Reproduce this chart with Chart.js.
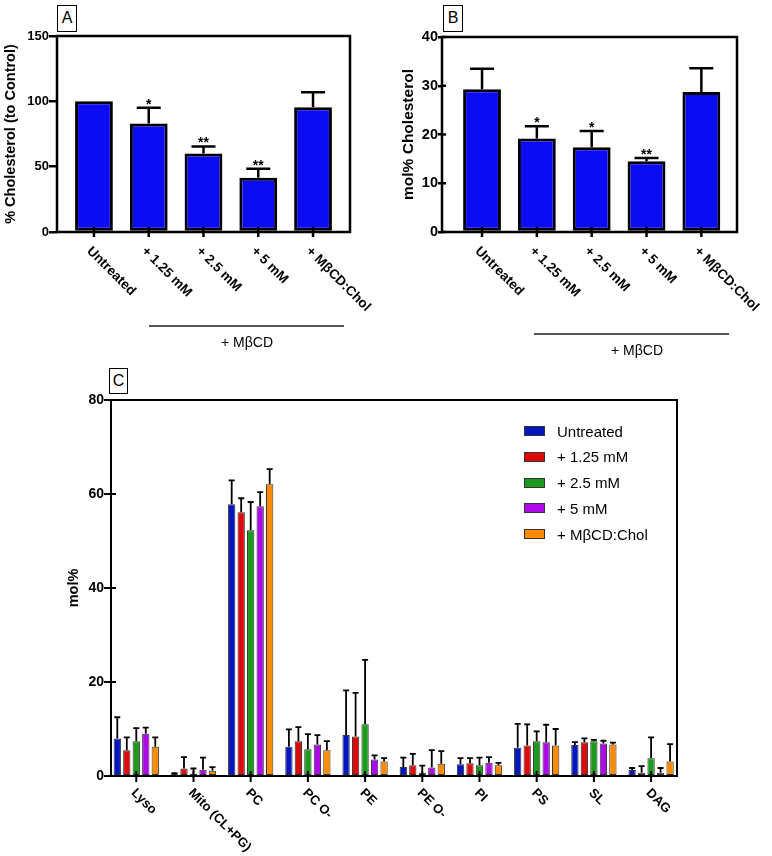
<!DOCTYPE html>
<html>
<head>
<meta charset="utf-8">
<script src="https://cdn.jsdelivr.net/npm/chart.js@4.4.1/dist/chart.umd.min.js"></script>
<style>
  body { margin: 0; background: #fff; font-family: 'Liberation Sans', Arial, sans-serif; color: #000; }
  #fig { position: relative; width: 772px; height: 856px; overflow: hidden; }
  canvas, .abs { position: absolute; }
  .tag { border: 1.5px solid #000; font-size: 16px; line-height: 24px; text-align: center; box-sizing: border-box; background: #fff; }
  .rule { background: #555; height: 2px; }
  .sub { font-size: 14px; width: 120px; text-align: center; }
  .key { display: flex; align-items: center; font-size: 15px; height: 20px; }
  .sw { width: 21px; height: 10px; border: 1px solid #333; box-sizing: border-box; margin-right: 12px; }
</style>
</head>
<body>
<div id="fig">
  <canvas id="chartA" width="386" height="330" style="left:0;top:0"></canvas>
  <canvas id="chartB" width="386" height="340" style="left:386px;top:0"></canvas>
  <canvas id="chartC" width="772" height="476" style="left:0;top:380px"></canvas>

  <div class="abs tag" style="left:57px;top:5px;width:20px;height:27px">A</div>
  <div class="abs tag" style="left:443px;top:5px;width:20px;height:27px">B</div>
  <div class="abs tag" style="left:109px;top:368px;width:19px;height:26px">C</div>

  <div class="abs rule" style="left:149px;top:325px;width:195px"></div>
  <div class="abs sub" style="left:187px;top:334px">+ MβCD</div>
  <div class="abs rule" style="left:534px;top:333px;width:195px"></div>
  <div class="abs sub" style="left:577px;top:342px">+ MβCD</div>

  <div class="abs" id="legendC" style="left:524px;top:421px"></div>
</div>

<script>
// panels A and B
const treatments = ['Untreated', '+ 1.25 mM', '+ 2.5 mM', '+ 5 mM', '+ MβCD:Chol'];
const cholPercent = [100, 83, 60, 41.5, 95.5];
const cholPercentErr = [100, 95, 65.5, 48.5, 107];
const cholPercentStars = ['', '*', '**', '**', ''];
const cholMol = [29.3, 19.2, 17.4, 14.5, 28.7];
const cholMolErr = [33.5, 21.7, 20.7, 15.2, 33.6];
const cholMolStars = ['', '*', '*', '**', ''];

// panel C
const lipidClasses = ['Lyso', 'Mito (CL+PG)', 'PC', 'PC O-', 'PE', 'PE O-', 'PI', 'PS', 'SL', 'DAG'];
const untreated    = [8.0, 0.5, 57.8, 6.2, 8.7, 1.9, 2.5, 6.0, 6.6, 1.3];
const untreatedErr = [12.5, 0.6, 62.9, 9.9, 18.2, 3.9, 3.8, 11.1, 7.2, 1.7];
const mm125        = [5.5, 1.6, 56.1, 7.4, 8.4, 2.3, 2.7, 6.5, 7.2, 0.7];
const mm125Err     = [8.2, 4.0, 59.1, 10.4, 17.7, 4.7, 3.8, 11.0, 8.0, 2.1];
const mm25         = [7.4, 0.5, 52.3, 5.7, 11.0, 0.7, 2.3, 7.4, 7.4, 3.8];
const mm25Err      = [10.2, 1.6, 58.3, 8.9, 24.7, 2.2, 3.9, 9.5, 7.7, 8.2];
const mm5          = [9.0, 1.35, 57.4, 6.7, 3.5, 1.8, 2.8, 7.2, 6.9, 0.7];
const mm5Err       = [10.3, 3.9, 60.4, 8.7, 4.4, 5.5, 4.0, 10.9, 7.5, 1.7];
const cholAdd      = [6.2, 1.1, 62.1, 5.5, 3.1, 2.6, 2.3, 6.5, 6.7, 3.1];
const cholAddErr   = [8.2, 1.9, 65.3, 7.4, 3.8, 5.3, 2.8, 10.0, 7.1, 6.8];
const seriesNames  = ['Untreated', '+ 1.25 mM', '+ 2.5 mM', '+ 5 mM', '+ MβCD:Chol'];
const seriesColors = ['#0516c0', '#dc0a0a', '#1b9a1b', '#ad0ae8', '#ff8c00'];

Chart.defaults.font.family = "'Liberation Sans', Arial, sans-serif";
Chart.defaults.color = '#000';
Chart.defaults.animation = false;

const toPoints = arr => arr.map((v, i) => ({ x: i + 1, y: v }));

// error bars, stars, frame, crossing ticks and slanted labels
const panelDeco = {
  id: 'panelDeco',
  afterDatasetsDraw(chart, args, o) {
    const ctx = chart.ctx, ys = chart.scales.y;
    ctx.save();
    ctx.strokeStyle = '#000';
    ctx.fillStyle = '#000';
    ctx.lineWidth = o.errWidth;
    chart.data.datasets.forEach((ds, i) => {
      chart.getDatasetMeta(i).data.forEach((bar, j) => {
        const top = ds.errorTop[j];
        let py = bar.y;
        if (top > ds.data[j].y) {
          py = ys.getPixelForValue(top);
          ctx.beginPath();
          ctx.moveTo(bar.x, bar.y);
          ctx.lineTo(bar.x, py);
          ctx.moveTo(bar.x - o.cap, py);
          ctx.lineTo(bar.x + o.cap, py);
          ctx.stroke();
        }
        if (ds.stars && ds.stars[j]) {
          ctx.font = 'bold 14px ' + Chart.defaults.font.family;
          ctx.textAlign = 'center';
          ctx.textBaseline = 'alphabetic';
          ctx.fillText(ds.stars[j], bar.x, py + 1);
        }
      });
    });
    ctx.restore();
  },
  afterDraw(chart, args, o) {
    const ctx = chart.ctx, ca = chart.chartArea, xs = chart.scales.x, ys = chart.scales.y;
    ctx.save();
    ctx.strokeStyle = '#000';
    ctx.lineWidth = o.frame;
    ctx.strokeRect(ca.left, ca.top, ca.right - ca.left, ca.bottom - ca.top);
    ctx.beginPath();
    xs.ticks.forEach(t => {
      const px = xs.getPixelForValue(t.value);
      ctx.moveTo(px, ca.bottom - o.xIn);
      ctx.lineTo(px, ca.bottom + o.xOut);
    });
    if (o.yIn) {
      ys.ticks.forEach(t => {
        const py = ys.getPixelForValue(t.value);
        ctx.moveTo(ca.left, py);
        ctx.lineTo(ca.left + o.yIn, py);
      });
    }
    ctx.stroke();
    ctx.fillStyle = '#000';
    ctx.font = 'bold ' + o.labelSize + 'px ' + Chart.defaults.font.family;
    ctx.textAlign = 'left';
    ctx.textBaseline = 'middle';
    o.labels.forEach((lab, i) => {
      const px = xs.getPixelForValue(i + 1);
      ctx.save();
      ctx.translate(px - o.labelDx, ca.bottom + o.labelDy);
      ctx.rotate(Math.PI / 4);
      ctx.fillText(lab, 0, 0);
      ctx.restore();
    });
    ctx.restore();
  }
};

function xAxis(labels, min, max, h) {
  return {
    type: 'linear', min: min, max: max, offset: false,
    afterBuildTicks: s => { s.ticks = labels.map((_, i) => ({ value: i + 1 })); },
    afterFit: s => { s.height = h; },
    ticks: { display: false },
    grid: { display: false, offset: false },
    border: { display: false }
  };
}

function yAxis(max, step, w, tickLen, lineW, size, title, titleSize, titlePad) {
  return {
    min: 0, max: max,
    afterFit: s => { s.width = w; },
    ticks: { stepSize: step, padding: 0, font: { size: size, weight: 'bold' } },
    grid: { drawOnChartArea: false, drawTicks: true, tickLength: tickLen, color: '#000', lineWidth: lineW },
    border: { display: false },
    title: { display: true, text: title, padding: { top: titlePad, bottom: 0 }, font: { size: titleSize, weight: 'bold' } }
  };
}

function singlePanel(id, values, errs, stars, yMax, yStep, yTitle, opts) {
  new Chart(document.getElementById(id), {
    type: 'bar',
    data: {
      datasets: [{
        data: toPoints(values),
        errorTop: errs,
        stars: stars,
        backgroundColor: '#0c0cf2',
        borderColor: '#000',
        borderWidth: 3,
        borderSkipped: false,
        categoryPercentage: 1,
        barPercentage: 0.69
      }]
    },
    options: {
      responsive: false,
      layout: { padding: opts.pad },
      scales: {
        x: xAxis(treatments, opts.xMin, opts.xMax, opts.xH),
        y: yAxis(yMax, yStep, opts.yW, opts.tick, 2.5, opts.tickSize, yTitle, opts.titleSize, opts.titlePad)
      },
      plugins: {
        legend: { display: false },
        tooltip: { enabled: false },
        panelDeco: { errWidth: 2.5, cap: 12, frame: 2.5, xIn: 5, xOut: 5, yIn: opts.yIn,
                     labelSize: 13.5, labelDx: 5, labelDy: 17, labels: treatments }
      }
    },
    plugins: [panelDeco]
  });
}

singlePanel('chartA', cholPercent, cholPercentErr, cholPercentStars, 150, 50, '% Cholesterol (to Control)',
  { pad: { left: 0, top: 36, right: 36, bottom: 0 }, xMin: 0.325, xMax: 5.675, xH: 98, yW: 57, tick: 8, yIn: 0,
    tickSize: 13, titleSize: 14.5, titlePad: 2 });

singlePanel('chartB', cholMol, cholMolErr, cholMolStars, 40, 10, 'mol% Cholesterol',
  { pad: { left: 0, top: 37, right: 35, bottom: 0 }, xMin: 0.27, xMax: 5.65, xH: 108, yW: 56, tick: 4, yIn: 4,
    tickSize: 14.5, titleSize: 15.5, titlePad: 13 });

const cValues = [untreated, mm125, mm25, mm5, cholAdd];
const cErrors = [untreatedErr, mm125Err, mm25Err, mm5Err, cholAddErr];

new Chart(document.getElementById('chartC'), {
  type: 'bar',
  data: {
    datasets: cValues.map((vals, k) => ({
      label: seriesNames[k],
      data: toPoints(vals),
      errorTop: cErrors[k],
      backgroundColor: seriesColors[k],
      borderColor: '#333',
      borderWidth: 1,
      borderSkipped: false,
      categoryPercentage: 0.83,
      barPercentage: 0.77
    }))
  },
  options: {
    responsive: false,
    layout: { padding: { left: 0, top: 20, right: 95, bottom: 0 } },
    scales: {
      x: xAxis(lipidClasses, 0.558, 10.453, 80),
      y: yAxis(80, 20, 111, 7, 2, 14, 'mol%', 14.5, 65)
    },
    plugins: {
      legend: { display: false },
      tooltip: { enabled: false },
      panelDeco: { errWidth: 1.8, cap: 3, frame: 2, xIn: 5, xOut: 6, yIn: 5,
                   labelSize: 13, labelDx: 3, labelDy: 15, labels: lipidClasses }
    }
  },
  plugins: [panelDeco]
});

// legend for panel C
const legendC = document.getElementById('legendC');
seriesNames.forEach((name, k) => {
  const row = document.createElement('div');
  row.className = 'key';
  row.style.marginBottom = '5.8px';
  row.innerHTML = '<span class="sw" style="background:' + seriesColors[k] + '"></span>' + name;
  legendC.appendChild(row);
});
</script>
</body>
</html>
